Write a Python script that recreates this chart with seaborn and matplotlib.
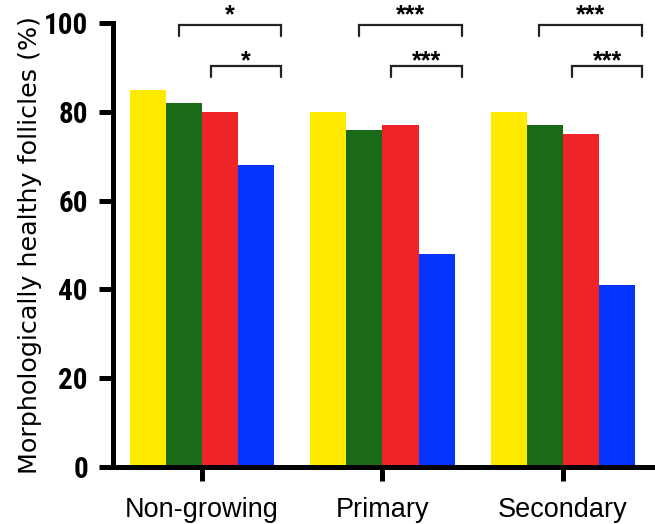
import matplotlib
matplotlib.use("Agg")
import matplotlib.pyplot as plt
from matplotlib import font_manager
import seaborn as sns
import pandas as pd

stages = ["Non-growing", "Primary", "Secondary"]
groups = ["Group 1", "Group 2", "Group 3", "Group 4"]
group1 = [85, 80, 80]
group2 = [82, 76, 77]
group3 = [80, 77, 75]
group4 = [68, 48, 41]
colors = ["#FFEA00", "#1A6B18", "#EE2428", "#0533FF"]
yticks = [0, 20, 40, 60, 80, 100]
sig_top = ["*", "***", "***"]
sig_low = ["*", "***", "***"]

rows = []
for g, vals in zip(groups, [group1, group2, group3, group4]):
    for s, v in zip(stages, vals):
        rows.append({"stage": s, "group": g, "value": v})
df = pd.DataFrame(rows)

sns.set_style("ticks")
avail = {f.name for f in font_manager.fontManager.ttflist}
base = "Liberation Sans" if "Liberation Sans" in avail else "DejaVu Sans"
narrow = base
for cand in ["Roboto Condensed", "Liberation Sans Narrow", "Archivo Narrow",
             "DejaVu Sans Condensed"]:
    if cand in avail:
        narrow = cand
        break
plt.rcParams["font.family"] = [base, "DejaVu Sans"]
for k in ["text.color", "axes.labelcolor", "xtick.color", "ytick.color"]:
    plt.rcParams[k] = "black"

fig = plt.figure(figsize=(6.55, 5.24), dpi=100)
ax = fig.add_axes([0.1725, 0.1094, 0.8275, 0.8466])

sns.barplot(data=df, x="stage", y="value", hue="group", palette=colors,
            saturation=1, linewidth=0, width=0.8, legend=False, ax=ax,
            errorbar=None)

ax.set_ylim(0, 100)
ax.set_xlim(-0.493, 2.51)
ax.set_yticks(yticks)
ax.set_yticklabels([str(t) for t in yticks], fontsize=21, fontweight="bold",
                   family=narrow)
ax.set_xticks(range(len(stages)))
ax.set_xticklabels(stages, fontsize=19.5)
ax.set_xlabel("")
ax.set_ylabel("Morphologically healthy follicles (%)", fontsize=18.3,
              family=["DejaVu Sans"], labelpad=1)

for side in ["top", "right"]:
    ax.spines[side].set_visible(False)
for side in ["left", "bottom"]:
    ax.spines[side].set_linewidth(3.6)
    ax.spines[side].set_color("black")
ax.tick_params(axis="both", length=10, width=3.6, direction="out", color="black")
ax.tick_params(axis="y", pad=8)
ax.tick_params(axis="x", pad=12)

def bracket(x1, x2, y, leg, label, ly):
    ax.plot([x1, x1, x2, x2], [y - leg, y, y, y - leg], color="#222222",
            lw=1.6, clip_on=False, solid_joinstyle="miter")
    ax.text((x1 + x2) / 2, ly, label, ha="center", va="baseline",
            fontsize=18, fontweight="bold", clip_on=False)

for i in range(len(stages)):
    x_g2 = i + (1 - 1.5) * 0.2
    x_g3 = i + (2 - 1.5) * 0.2
    right = i + 0.44
    bracket(x_g2 - 0.03, right, 99.5, 2.4, sig_top[i], 100.2)
    bracket(x_g3 - 0.05, right, 90.3, 2.4, sig_low[i], 89.9)

fig.savefig("out.png", dpi=100)
